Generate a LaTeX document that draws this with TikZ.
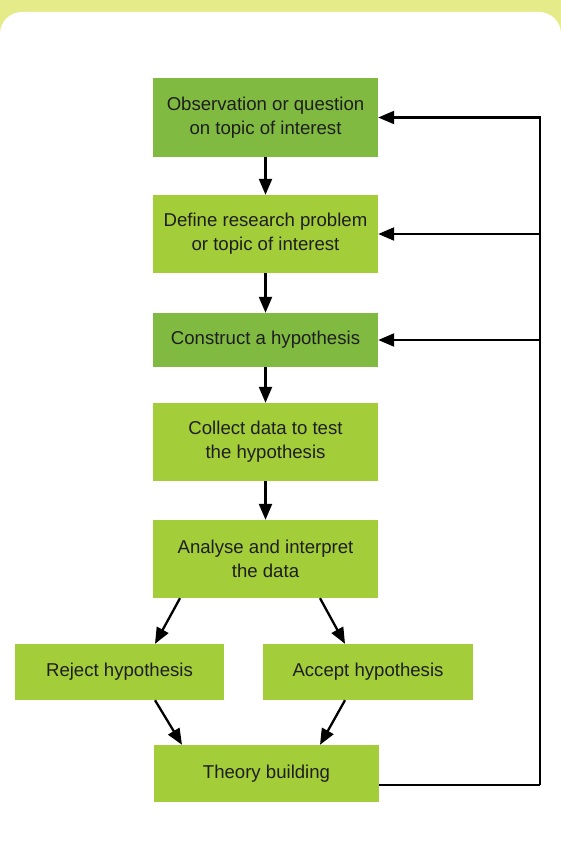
\documentclass[tikz,border=0pt]{standalone}
\usepackage{fontspec}
\setmainfont{Liberation Sans}
\usetikzlibrary{arrows.meta}
\definecolor{bandcol}{HTML}{E6EB8A}
\definecolor{darkbox}{HTML}{80BA40}
\definecolor{lightbox}{HTML}{A3CD39}
\definecolor{inkcol}{HTML}{1E1E1E}
\tikzset{
  box/.style={rectangle, inner sep=0pt, minimum width=225pt, text=inkcol,
    align=center, font=\fontsize{18.6}{24}\selectfont},
  darkstep/.style={box, fill=darkbox},
  lightstep/.style={box, fill=lightbox},
  link/.style={line width=2.3pt, draw=black},
  arr/.style={link, -{Triangle[length=16pt,width=13pt]}}
}
\begin{document}
\begin{tikzpicture}[x=1pt,y=-1pt]
  \useasboundingbox (0,0) rectangle (561,864);
  % panel header band and white card
  \fill[bandcol] (0,0) rectangle (561,40);
  \fill[white, rounded corners=22pt] (0,12) rectangle (561,900);

  % process steps
  \node[darkstep, minimum height=79pt] (obs) at (265.5,117.5)
    {Observation or question\\on topic of interest};
  \node[lightstep, minimum height=78pt] (def) at (265.5,234)
    {Define research problem\\or topic of interest};
  \node[darkstep, minimum height=54pt] (hyp) at (265.5,340)
    {Construct a hypothesis};
  \node[lightstep, minimum height=78pt] (col) at (265.5,442)
    {Collect data to test\\the hypothesis};
  \node[lightstep, minimum height=78pt] (ana) at (265.5,559)
    {Analyse and interpret\\the data};
  \node[lightstep, minimum height=56pt, minimum width=209pt] (rej) at (119.5,672)
    {Reject hypothesis};
  \node[lightstep, minimum height=56pt, minimum width=210pt] (acc) at (368,672)
    {Accept hypothesis};
  \node[lightstep, minimum height=57pt] (the) at (266.5,773.5)
    {Theory building};

  % main flow
  \draw[arr] (obs) -- (def);
  \draw[arr] (def) -- (hyp);
  \draw[arr] (hyp) -- (col);
  \draw[arr] (col) -- (ana);
  \draw[arr] ([xshift=-85.5pt]ana.south) -- ([xshift=35.5pt]rej.north);
  \draw[arr] ([xshift=54.5pt]ana.south) -- ([xshift=-23pt]acc.north);
  \draw[arr] ([xshift=35.5pt]rej.south) -- ([xshift=-84.5pt]the.north);
  \draw[arr] ([xshift=-23pt]acc.south) -- ([xshift=53.5pt]the.north);

  % feedback loop
  \coordinate (loopbot) at (540,785);
  \draw[link] ([yshift=-11.5pt]the.east) -- (loopbot);
  \draw[arr] (loopbot) |- (obs.east);
  \draw[arr] (loopbot) |- (def.east);
  \draw[arr] (loopbot) |- (hyp.east);
\end{tikzpicture}
\end{document}
